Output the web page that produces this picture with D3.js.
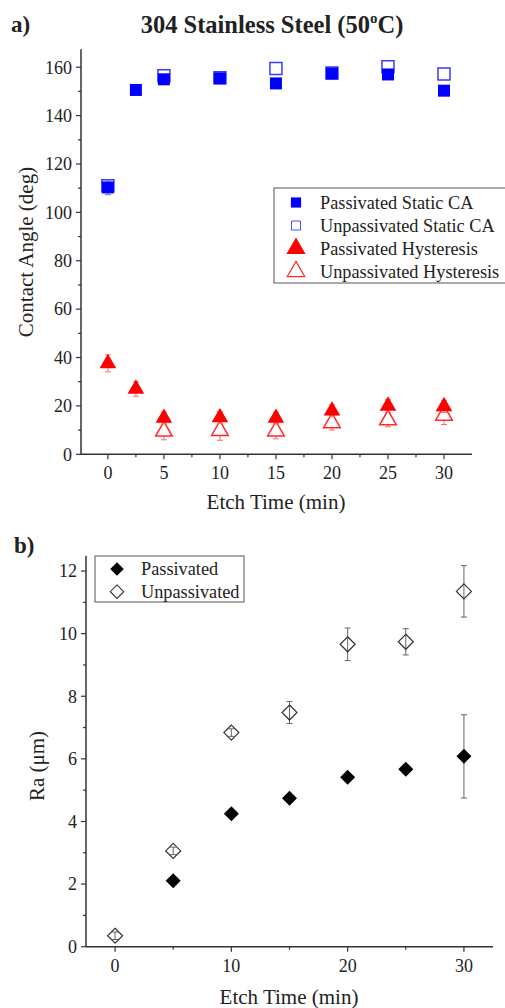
<!DOCTYPE html>
<html>
<head>
<meta charset="utf-8">
<script src="https://cdn.jsdelivr.net/npm/d3@7"></script>
<style>
  body { margin: 0; background: #fff; }
  svg { display: block; font-family: "Liberation Serif", "Times New Roman", serif; }
</style>
</head>
<body>
<svg width="505" height="1008"></svg>
<script>
// panel a) contact angle data
const caTimes = [0, 2.5, 5, 10, 15, 20, 25, 30];
const passStatic = [110.3, 150.6, 155, 155.4, 153.3, 157.4, 157, 150.3];
const passStaticErr = [3, 1, 1.5, 1, 1, 1.2, 2, 1.2];
const unpTimes = [0, 5, 10, 15, 20, 25, 30];
const unpStatic = [111, 156.5, 155.6, 159.5, 157.6, 160.2, 157.2];
const unpStaticErr = [2, 1.5, 1, 1, 1, 1.2, 1];
const passHyst = [37.6, 27, 15, 15.2, 15, 18, 20, 19.8];
const passHystErr = [3.5, 3, 2.5, 2.5, 2.5, 2.5, 2.5, 2.5];
const unpHystTimes = [5, 10, 15, 20, 25, 30];
const unpHyst = [9.5, 9.8, 9.6, 13, 14.2, 16.1];
const unpHystErr = [3.5, 4, 3.2, 3, 2.8, 3.8];

// panel b) roughness data
const raPassTimes = [5, 10, 15, 20, 25, 30];
const raPass = [2.11, 4.25, 4.74, 5.41, 5.67, 6.08];
const raPassErr = [0.1, 0.1, 0.1, 0.1, 0.12, 1.33];
const raUnpTimes = [0, 5, 10, 15, 20, 25, 30];
const raUnp = [0.35, 3.06, 6.84, 7.48, 9.66, 9.74, 11.35];
const raUnpErr = [0.12, 0.12, 0.12, 0.35, 0.52, 0.42, 0.82];

const svg = d3.select("svg");
const axisCol = "#333";
const tickFont = 18;
const titleFont = 21;

function drawAxes(g, x, y, xMajor, xMinor, yMajor, yMinor) {
  const h = y.range()[0];
  const left = x.range()[0], right = x.range()[1];
  g.append("line").attr("x1", left).attr("x2", right).attr("y1", h).attr("y2", h)
    .attr("stroke", axisCol).attr("stroke-width", 1.5);
  g.append("line").attr("x1", left).attr("x2", left).attr("y1", y.range()[1]).attr("y2", h)
    .attr("stroke", axisCol).attr("stroke-width", 1.5);
  xMajor.forEach(v => {
    g.append("line").attr("x1", x(v)).attr("x2", x(v)).attr("y1", h).attr("y2", h + 5)
      .attr("stroke", axisCol).attr("stroke-width", 1.2);
    g.append("text").attr("x", x(v)).attr("y", h + 25).attr("text-anchor", "middle")
      .attr("font-size", tickFont).attr("fill", "#222").text(v);
  });
  xMinor.forEach(v => {
    g.append("line").attr("x1", x(v)).attr("x2", x(v)).attr("y1", h).attr("y2", h + 3)
      .attr("stroke", axisCol).attr("stroke-width", 1.2);
  });
  yMajor.forEach(v => {
    g.append("line").attr("x1", left).attr("x2", left - 5).attr("y1", y(v)).attr("y2", y(v))
      .attr("stroke", axisCol).attr("stroke-width", 1.2);
    g.append("text").attr("x", left - 9).attr("y", y(v)).attr("dy", "0.35em")
      .attr("text-anchor", "end").attr("font-size", tickFont).attr("fill", "#222").text(v);
  });
  yMinor.forEach(v => {
    g.append("line").attr("x1", left).attr("x2", left - 3).attr("y1", y(v)).attr("y2", y(v))
      .attr("stroke", axisCol).attr("stroke-width", 1.2);
  });
}

function errBars(g, x, y, xs, ys, es, col) {
  xs.forEach((t, i) => {
    const top = y(ys[i] + es[i]), bot = y(ys[i] - es[i]);
    g.append("line").attr("x1", x(t)).attr("x2", x(t)).attr("y1", top).attr("y2", bot)
      .attr("stroke", col).attr("stroke-width", 1);
    [top, bot].forEach(yy => g.append("line").attr("x1", x(t) - 3).attr("x2", x(t) + 3)
      .attr("y1", yy).attr("y2", yy).attr("stroke", col).attr("stroke-width", 1));
  });
}

const sq = d3.symbol().type(d3.symbolSquare).size(144)();
const tri = d3.symbol().type(d3.symbolTriangle).size(120)();
// square rotated 45 degrees, as wide as it is tall
const dia = "M0,-7.5L7.5,0L0,7.5L-7.5,0Z";

// ---------- panel a ----------
const xa = d3.scaleLinear().domain([-2.4, 32.5]).range([81, 472]);
const ya = d3.scaleLinear().domain([0, 167.4]).range([454.3, 49.3]);
const ga = svg.append("g");

svg.append("text").attr("x", 11).attr("y", 32).attr("font-size", 23).attr("font-weight", "bold")
  .attr("fill", "#222").text("a)");
const title = svg.append("text").attr("x", 272).attr("y", 33).attr("text-anchor", "middle")
  .attr("font-size", 24.5).attr("font-weight", "bold").attr("fill", "#222");
title.append("tspan").text("304 Stainless Steel (50");
title.append("tspan").attr("font-size", 15).attr("dy", -10).text("o");
title.append("tspan").attr("dy", 10).text("C)");

drawAxes(ga, xa, ya, [0, 5, 10, 15, 20, 25, 30], [2.5, 7.5, 12.5, 17.5, 22.5, 27.5],
  d3.range(0, 161, 20), d3.range(10, 161, 20));

ga.append("text").attr("transform", "translate(33,252) rotate(-90)").attr("text-anchor", "middle")
  .attr("font-size", titleFont).attr("fill", "#222").text("Contact Angle (deg)");
ga.append("text").attr("x", 276).attr("y", 509).attr("text-anchor", "middle")
  .attr("font-size", titleFont).attr("fill", "#222").text("Etch Time (min)");

// unpassivated first (behind)
errBars(ga, xa, ya, unpTimes, unpStatic, unpStaticErr, "#6b6bff");
ga.selectAll(".us").data(unpTimes).enter().append("path").attr("d", sq)
  .attr("transform", (t, i) => `translate(${xa(t)},${ya(unpStatic[i])})`)
  .attr("fill", "#fff").attr("stroke", "#3a3aff").attr("stroke-width", 1.5);
errBars(ga, xa, ya, caTimes, passStatic, passStaticErr, "#6b6bff");
ga.selectAll(".ps").data(caTimes).enter().append("path").attr("d", sq)
  .attr("transform", (t, i) => `translate(${xa(t)},${ya(passStatic[i])})`)
  .attr("fill", "#0000ff");

errBars(ga, xa, ya, unpHystTimes, unpHyst, unpHystErr, "#ff6b6b");
ga.selectAll(".uh").data(unpHystTimes).enter().append("path").attr("d", tri)
  .attr("transform", (t, i) => `translate(${xa(t)},${ya(unpHyst[i])})`)
  .attr("fill", "#fff").attr("stroke", "#ff2a2a").attr("stroke-width", 1.5);
errBars(ga, xa, ya, caTimes, passHyst, passHystErr, "#ff6b6b");
ga.selectAll(".ph").data(caTimes).enter().append("path").attr("d", tri)
  .attr("transform", (t, i) => `translate(${xa(t)},${ya(passHyst[i])})`)
  .attr("fill", "#ff0000");

// legend a
const legA = [
  { label: "Passivated Static CA", sym: sq, k: 0.85, fill: "#0000ff", stroke: "none" },
  { label: "Unpassivated Static CA", sym: sq, k: 0.75, fill: "#fff", stroke: "#3a3aff" },
  { label: "Passivated Hysteresis", sym: tri, k: 1.15, fill: "#ff0000", stroke: "none" },
  { label: "Unpassivated Hysteresis", sym: tri, k: 1.05, fill: "#fff", stroke: "#ff2a2a" }
];
ga.append("rect").attr("x", 274).attr("y", 188).attr("width", 232).attr("height", 95)
  .attr("fill", "#fff").attr("stroke", "#555").attr("stroke-width", 1);
legA.forEach((d, i) => {
  const yy = 202.5 + i * 23;
  ga.append("path").attr("d", d.sym).attr("transform", `translate(296,${yy}) scale(${d.k})`)
    .attr("fill", d.fill).attr("stroke", d.stroke).attr("stroke-width", 1.2);
  ga.append("text").attr("x", 320).attr("y", yy).attr("dy", "0.35em")
    .attr("font-size", 18.3).attr("fill", "#222").text(d.label);
});

// ---------- panel b ----------
const xb = d3.scaleLinear().domain([-2.5, 32.5]).range([86, 493]);
const yb = d3.scaleLinear().domain([0, 12.49]).range([946.7, 555.7]);
const gb = svg.append("g");

svg.append("text").attr("x", 14).attr("y", 553).attr("font-size", 23).attr("font-weight", "bold")
  .attr("fill", "#222").text("b)");

drawAxes(gb, xb, yb, [0, 10, 20, 30], [5, 15, 25],
  d3.range(0, 13, 2), d3.range(1, 12, 2));

gb.append("text").attr("transform", "translate(44,766) rotate(-90)").attr("text-anchor", "middle")
  .attr("font-size", titleFont).attr("fill", "#222").text("Ra (\u03bcm)");
gb.append("text").attr("x", 289).attr("y", 1004).attr("text-anchor", "middle")
  .attr("font-size", titleFont).attr("fill", "#222").text("Etch Time (min)");

errBars(gb, xb, yb, raUnpTimes, raUnp, raUnpErr, "#666");
gb.selectAll(".ud").data(raUnpTimes).enter().append("path").attr("d", dia)
  .attr("transform", (t, i) => `translate(${xb(t)},${yb(raUnp[i])})`)
  .attr("fill", "none").attr("stroke", "#333").attr("stroke-width", 1.2);
errBars(gb, xb, yb, raPassTimes, raPass, raPassErr, "#666");
gb.selectAll(".pd").data(raPassTimes).enter().append("path").attr("d", dia)
  .attr("transform", (t, i) => `translate(${xb(t)},${yb(raPass[i])})`)
  .attr("fill", "#000");

const legB = [
  { label: "Passivated", fill: "#000", stroke: "none" },
  { label: "Unpassivated", fill: "#fff", stroke: "#333" }
];
gb.append("rect").attr("x", 95).attr("y", 556).attr("width", 149).attr("height", 46)
  .attr("fill", "#fff").attr("stroke", "#555").attr("stroke-width", 1);
legB.forEach((d, i) => {
  const yy = 569 + i * 22.7;
  gb.append("path").attr("d", dia).attr("transform", `translate(117,${yy}) scale(0.9)`)
    .attr("fill", d.fill).attr("stroke", d.stroke).attr("stroke-width", 1.2);
  gb.append("text").attr("x", 141).attr("y", yy).attr("dy", "0.35em")
    .attr("font-size", 18.3).attr("fill", "#222").text(d.label);
});
</script>
</body>
</html>
